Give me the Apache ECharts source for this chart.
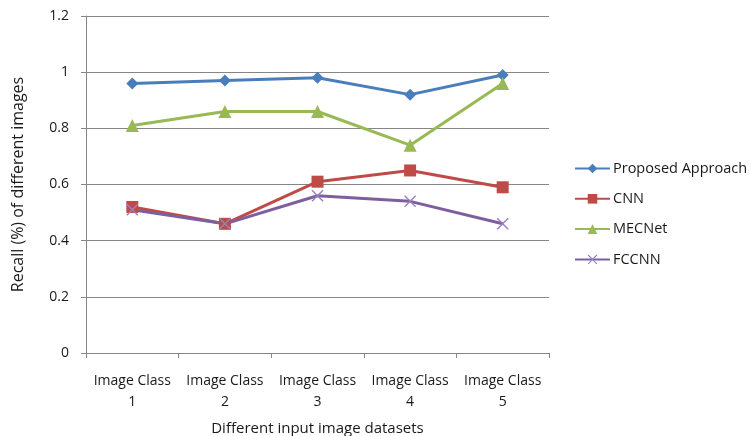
<!DOCTYPE html>
<html>
<head>
<meta charset="utf-8">
<script src="https://cdn.jsdelivr.net/npm/echarts@6/dist/echarts.min.js"></script>
<style>
  html, body { margin: 0; padding: 0; background: #fff; }
  #chart { width: 751px; height: 436px; }
</style>
</head>
<body>
<div id="chart"></div>
<script>
const categories = ['Image Class\n1', 'Image Class\n2', 'Image Class\n3', 'Image Class\n4', 'Image Class\n5'];
const proposed = [0.96, 0.97, 0.98, 0.92, 0.99];
const cnn = [0.52, 0.46, 0.61, 0.65, 0.59];
const mecnet = [0.81, 0.86, 0.86, 0.74, 0.96];
const fccnn = [0.51, 0.46, 0.56, 0.54, 0.46];
const yTicks = [0, 0.2, 0.4, 0.6, 0.8, 1, 1.2];

const FONT = 'Open Sans';
const TEXT = '#1a1a1a';
const crossPath = 'path://M0,1L1,0L6,5L11,0L12,1L7,6L12,11L11,12L6,7L1,12L0,11L5,6Z';

function lineSeries(name, data, color, symbol, size, markerColor) {
  return {
    name, type: 'line', data,
    symbol, symbolSize: size,
    lineStyle: { color, width: 3 },
    itemStyle: { color: markerColor || color },
    emphasis: { disabled: true },
    z: 3
  };
}

const chart = echarts.init(document.getElementById('chart'), null, { renderer: 'canvas' });
chart.setOption({
  animation: false,
  backgroundColor: '#ffffff',
  textStyle: { fontFamily: FONT },
  grid: { left: 86, right: 202, top: 16, bottom: 83, containLabel: false, outerBoundsMode: 'none' },
  legend: {
    orient: 'vertical',
    left: 569, top: 156,
    itemGap: 15.3,
    itemWidth: 35, itemHeight: 12,
    textStyle: { fontFamily: FONT, fontSize: 14.5, color: TEXT, padding: [0, 0, 0, -2] },
    data: ['Proposed Approach', 'CNN', 'MECNet', 'FCCNN']
  },
  xAxis: {
    type: 'category',
    data: categories,
    boundaryGap: true,
    name: 'Different input image datasets',
    nameLocation: 'middle',
    nameGap: 68,
    nameTextStyle: { fontFamily: FONT, fontSize: 15, color: TEXT },
    axisLine: { lineStyle: { color: '#868686', width: 1 } },
    axisTick: { show: true, inside: false, length: 5, lineStyle: { color: '#868686' } },
    axisLabel: { fontFamily: FONT, fontSize: 14, color: TEXT, margin: 18, lineHeight: 21, interval: 0 },
    splitLine: { show: false }
  },
  yAxis: {
    type: 'value',
    min: 0, max: 1.2, interval: 0.2,
    name: 'Recall (%) of different images',
    nameLocation: 'middle',
    nameGap: 60,
    nameRotate: 90,
    nameTextStyle: { fontFamily: FONT, fontSize: 16, color: TEXT },
    axisLine: { show: true, lineStyle: { color: '#868686', width: 1 } },
    axisTick: { show: true, inside: false, length: 5, lineStyle: { color: '#868686' } },
    axisLabel: {
      fontFamily: FONT, fontSize: 14, color: TEXT, margin: 17,
      formatter: v => {
        const t = yTicks.find(k => Math.abs(k - v) < 1e-9);
        return t === undefined ? '' : String(t);
      }
    },
    splitLine: { show: true, lineStyle: { color: '#868686', width: 1 } }
  },
  series: [
    lineSeries('Proposed Approach', proposed, '#4A7EBB', 'diamond', 12),
    lineSeries('CNN', cnn, '#BE4B48', 'rect', 12),
    lineSeries('MECNet', mecnet, '#98B954', 'triangle', 13),
    lineSeries('FCCNN', fccnn, '#7D5FA0', crossPath, 12, '#9B7FC0')
  ]
});
</script>
</body>
</html>
